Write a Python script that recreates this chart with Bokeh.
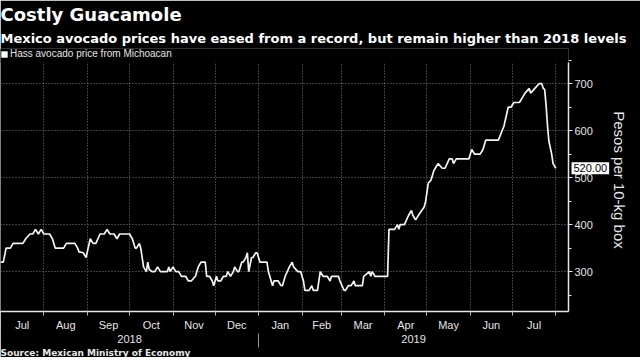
import pandas as pd
from bokeh.plotting import figure
from bokeh.models import (FixedTicker, LinearAxis, Title, Legend, LegendItem, Label,
                          BoxAnnotation)
from bokeh.core.properties import value
from bokeh.embed import file_html
from bokeh.resources import INLINE

title_text = "Costly Guacamole"
subtitle_text = "Mexico avocado prices have eased from a record, but remain higher than 2018 levels"
series_name = "Hass avocado price from Michoacan"
source_text = "Source: Mexican Ministry of Economy"
y_axis_title = "Pesos per 10-kg box"

dates = [
    "2018-07-01", "2018-07-03", "2018-07-05", "2018-07-08", "2018-07-10", "2018-07-17",
    "2018-07-19", "2018-07-22", "2018-07-24", "2018-07-26", "2018-07-28", "2018-07-30",
    "2018-08-01", "2018-08-05", "2018-08-07", "2018-08-09", "2018-08-15", "2018-08-17",
    "2018-08-23", "2018-08-25", "2018-08-26", "2018-08-29", "2018-08-31",
    "2018-09-03", "2018-09-05", "2018-09-07", "2018-09-10", "2018-09-13", "2018-09-15",
    "2018-09-17", "2018-09-20", "2018-09-22", "2018-09-24",
    "2018-10-01", "2018-10-03", "2018-10-05", "2018-10-06", "2018-10-08", "2018-10-09",
    "2018-10-11", "2018-10-13", "2018-10-14", "2018-10-15", "2018-10-17", "2018-10-19",
    "2018-10-21", "2018-10-23", "2018-10-28", "2018-10-29", "2018-10-30",
    "2018-11-01", "2018-11-03", "2018-11-05", "2018-11-07", "2018-11-10", "2018-11-12",
    "2018-11-14", "2018-11-17", "2018-11-19", "2018-11-21", "2018-11-24", "2018-11-25",
    "2018-11-27", "2018-11-29", "2018-11-30",
    "2018-12-02", "2018-12-03", "2018-12-05", "2018-12-07", "2018-12-09", "2018-12-10",
    "2018-12-12", "2018-12-14", "2018-12-15", "2018-12-17", "2018-12-18", "2018-12-20",
    "2018-12-21", "2018-12-23", "2018-12-24", "2018-12-25", "2018-12-27", "2018-12-28",
    "2018-12-30", "2018-12-31",
    "2019-01-02", "2019-01-07", "2019-01-08", "2019-01-10", "2019-01-11", "2019-01-12",
    "2019-01-15", "2019-01-17", "2019-01-18", "2019-01-20", "2019-01-23", "2019-01-25",
    "2019-01-26", "2019-01-29", "2019-01-31",
    "2019-02-02", "2019-02-03", "2019-02-06", "2019-02-08", "2019-02-09", "2019-02-12",
    "2019-02-14", "2019-02-16", "2019-02-19", "2019-02-21", "2019-02-22", "2019-02-27",
    "2019-02-28",
    "2019-03-03", "2019-03-04", "2019-03-06", "2019-03-08", "2019-03-10", "2019-03-11",
    "2019-03-16", "2019-03-17", "2019-03-21", "2019-03-22", "2019-03-23", "2019-03-25",
    "2019-04-03", "2019-04-04", "2019-04-08", "2019-04-10", "2019-04-11", "2019-04-12",
    "2019-04-15", "2019-04-18", "2019-04-20", "2019-04-21", "2019-04-23", "2019-04-25",
    "2019-04-29", "2019-04-30",
    "2019-05-02", "2019-05-04", "2019-05-06", "2019-05-07", "2019-05-09", "2019-05-12",
    "2019-05-14", "2019-05-17", "2019-05-19", "2019-05-20", "2019-05-22", "2019-05-31",
    "2019-06-02", "2019-06-04", "2019-06-08", "2019-06-10", "2019-06-12", "2019-06-21",
    "2019-06-23", "2019-06-25", "2019-06-28", "2019-06-30",
    "2019-07-02", "2019-07-06", "2019-07-08", "2019-07-10", "2019-07-13", "2019-07-14",
    "2019-07-17", "2019-07-20", "2019-07-22", "2019-07-23", "2019-07-24", "2019-07-25",
    "2019-07-26", "2019-07-27", "2019-07-29", "2019-07-30", "2019-08-01",
]
values = [
    320, 320, 350, 350, 360, 360,
    370, 380, 380, 390, 380, 390,
    380, 380, 370, 350, 350, 360,
    360, 350, 342, 340, 330,
    370, 360, 360, 380, 380, 390,
    380, 380, 370, 380,
    380, 370, 350, 350, 360, 350,
    310, 300, 320, 305, 300, 300,
    310, 300, 300, 310, 300,
    310, 300, 300, 290, 290, 280,
    280, 290, 310, 320, 320, 290,
    290, 280, 270,
    290, 280, 280, 290, 290, 300,
    290, 300, 310, 300, 300, 320,
    320, 330, 340, 300, 330, 330,
    340, 340,
    320, 320, 300, 280, 270, 280,
    280, 270, 270, 290, 310, 320,
    310, 300, 300,
    280, 260, 260, 270, 260, 260,
    300, 290, 290, 280, 290, 290,
    280,
    260, 260, 270, 270, 280, 270,
    270, 290, 300, 290, 300, 290,
    290, 390, 390, 400, 390, 400,
    400, 420, 430, 420, 410, 420,
    437, 447,
    488, 495, 515, 520, 530, 520,
    520, 540, 540, 530, 540, 540,
    560, 550, 550, 560, 580, 580,
    595, 610, 650, 650,
    660, 660, 670, 680, 690, 680,
    690, 700, 700, 690, 688, 655,
    612, 578, 550, 530, 520,
]

month_starts = [
    "2018-07-01", "2018-08-01", "2018-09-01", "2018-10-01", "2018-11-01", "2018-12-01",
    "2019-01-01", "2019-02-01", "2019-03-01", "2019-04-01", "2019-05-01", "2019-06-01",
    "2019-07-01", "2019-08-01",
]
month_labels = ["Jul", "Aug", "Sep", "Oct", "Nov", "Dec", "Jan", "Feb", "Mar", "Apr",
                "May", "Jun", "Jul"]
year_labels = ["2018", "2019"]
year_start = "2019-01-01"
x_start, x_end = "2018-07-01", "2019-08-10"
y_ticks = [300, 400, 500, 600, 700]
y_minor = [250, 350, 450, 550, 650, 750]
y_start, grid_top, y_end = 215, 745, 775


def ms(d):
    return int(pd.Timestamp(d).value // 10**6)


bounds = [ms(d) for d in month_starts]
mids = [(a + b) // 2 for a, b in zip(bounds[:-1], bounds[1:])]
year_pos = [(ms(x_start) + ms(year_start)) // 2, (ms(year_start) + ms(x_end)) // 2]
x_dt = pd.to_datetime(dates)

FG = "#e6e6e6"
GRID = "#7a7a7a"
FRAME_W, FRAME_H = 568, 263

p = figure(frame_width=FRAME_W, frame_height=FRAME_H, x_axis_type="datetime",
           y_axis_location="right",
           x_range=(ms(x_start), ms(x_end)), y_range=(y_start, y_end),
           output_backend="svg", toolbar_location=None, title=None,
           min_border_left=0, min_border_right=0, min_border_top=0, min_border_bottom=0,
           background_fill_color="black", border_fill_color="black",
           outline_line_color=None)

p.line(x=x_dt, y=values, line_color="#f4f4f4", line_width=1.7)

# bottom month axis
xa = p.xaxis[0]
xa.ticker = FixedTicker(ticks=mids, minor_ticks=bounds[1:])
xa.major_label_overrides = {t: lab for t, lab in zip(mids, month_labels)}
xa.major_tick_out = 0
xa.major_tick_in = 0
xa.major_tick_line_color = None
xa.minor_tick_in = 0
xa.minor_tick_out = 4
xa.minor_tick_line_color = "#bbbbbb"
xa.axis_line_color = FG
xa.axis_line_width = 1.5
xa.major_label_standoff = 3
xa.major_label_text_font = "Liberation Sans"
xa.major_label_text_font_size = "11px"
xa.major_label_text_color = FG

# year axis (the minor tick marks the year boundary)
ya2 = LinearAxis(ticker=FixedTicker(ticks=year_pos, minor_ticks=[ms(year_start)]),
                 major_label_overrides={t: lab for t, lab in zip(year_pos, year_labels)},
                 axis_line_color=None, major_tick_line_color=None,
                 major_tick_out=0, major_tick_in=0,
                 minor_tick_in=0, minor_tick_out=14, minor_tick_line_color="#999999",
                 major_label_standoff=-13, major_label_text_font="Liberation Sans",
                 major_label_text_font_size="11px", major_label_text_color=FG)
p.add_layout(ya2, "below")

# right value axis
ya = p.yaxis[0]
ya.ticker = FixedTicker(ticks=y_ticks, minor_ticks=y_minor)
ya.bounds = (y_start, grid_top)
ya.axis_line_color = FG
ya.axis_line_width = 1.5
ya.major_tick_in = 0
ya.major_tick_out = 4
ya.minor_tick_in = 0
ya.minor_tick_out = 3
ya.major_tick_line_color = FG
ya.minor_tick_line_color = FG
ya.major_label_standoff = 2
ya.major_label_text_font = "Liberation Sans"
ya.major_label_text_font_size = "11px"
ya.major_label_text_color = FG
ya.axis_label = y_axis_title
ya.axis_label_text_font = "Liberation Sans"
ya.axis_label_text_font_size = "15px"
ya.axis_label_text_font_style = "normal"
ya.axis_label_text_color = FG
ya.axis_label_standoff = 15

p.xgrid.ticker = FixedTicker(ticks=bounds[1:])
p.ygrid.ticker = FixedTicker(ticks=y_ticks)
for g in (p.xgrid, p.ygrid):
    g.grid_line_color = GRID
    g.grid_line_dash = "1 2"
    g.grid_line_width = 1

# black strip above the grid area that holds the legend
p.add_layout(BoxAnnotation(bottom=grid_top, fill_color="black", fill_alpha=1,
                           line_color=None))

# legend swatch: zero-size bars on the series, shown only as a filled square
swatch = p.vbar(x=x_dt, top=values, bottom=values, width=0, fill_color="white",
                line_color=None)
legend = Legend(items=[LegendItem(label=value(series_name), renderers=[swatch])],
                location="top_left", orientation="horizontal",
                glyph_width=8, glyph_height=8, label_standoff=2, label_height=10,
                label_text_font="Liberation Sans", label_text_font_size="10px",
                label_text_color=FG, padding=0, margin=0, spacing=0,
                background_fill_alpha=0, border_line_color=None)
p.add_layout(legend, "center")

# last value tag (in a side panel so it is not clipped to the frame)
p.add_layout(Label(x=ms(x_end), y=values[-1], text=f"{values[-1]:.2f}", x_offset=3,
                   text_baseline="middle", text_align="left", text_color="black",
                   text_font="Liberation Sans", text_font_size="11px",
                   background_fill_color="white", padding=2), "right")

p.add_layout(Title(text=subtitle_text, align="left", text_font="DejaVu Sans",
                   text_font_style="bold", text_font_size="13px", text_color="white",
                   standoff=6), "above")
p.add_layout(Title(text=title_text, align="left", text_font="DejaVu Sans",
                   text_font_style="bold", text_font_size="18px", text_color="white",
                   standoff=2), "above")
p.add_layout(Title(text=source_text, align="left", text_font="DejaVu Sans",
                   text_font_style="bold", text_font_size="9px", text_color=FG,
                   standoff=0), "below")

open("out.html", "w").write(file_html(p, INLINE))
